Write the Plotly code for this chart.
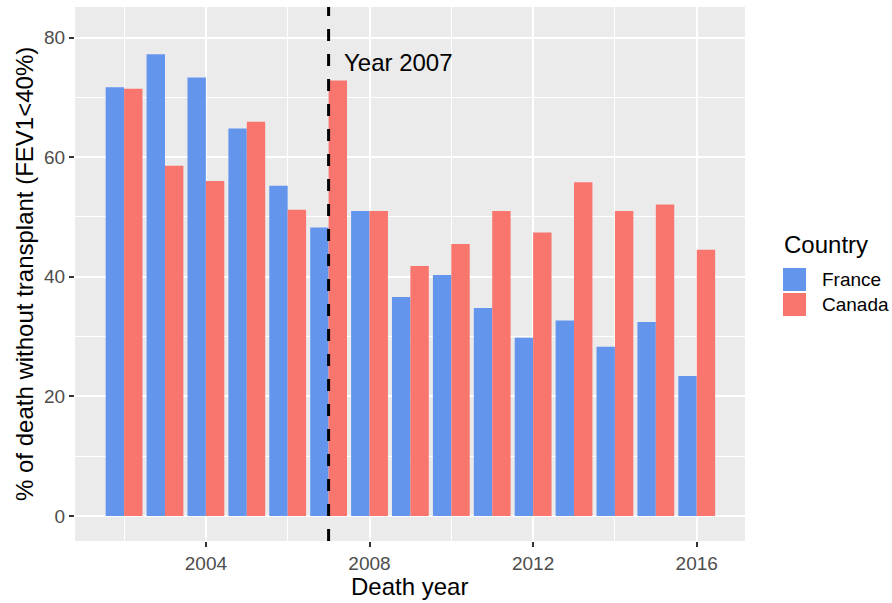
import plotly.graph_objects as go

# ---- data ----
years = [2002, 2003, 2004, 2005, 2006, 2007, 2008, 2009, 2010, 2011, 2012, 2013, 2014, 2015, 2016]
france = [71.7, 77.2, 73.3, 64.8, 55.2, 48.25, 51.0, 36.6, 40.3, 34.8, 29.8, 32.7, 28.3, 32.45, 23.4]
canada = [71.45, 58.55, 56.0, 65.9, 51.2, 72.8, 51.0, 41.8, 45.5, 51.0, 47.4, 55.8, 51.0, 52.1, 44.5]
countries = ["France", "Canada"]
colors = ["#6495ED", "#F8766D"]
vline_year = 2007
vline_label = "Year 2007"
label_x, label_y = 2007.32, 75.8
y_ticks = [0, 20, 40, 60, 80]
x_ticks = [2004, 2008, 2012, 2016]

W, H = 892, 603
ML, MR, MT, MB = 75, 147, 7, 62
PW, PH = W - ML - MR, H - MT - MB

def px(x):
    return (x - ML) / PW

def py(y):
    return (H - MB - y) / PH

FONT = "Liberation Sans, Arial, sans-serif"

fig = go.Figure()
for name, vals, col in zip(countries, [france, canada], colors):
    fig.add_trace(go.Bar(x=years, y=vals, name=name, marker=dict(color=col, line=dict(width=0)),
                         showlegend=False))

fig.update_layout(
    width=W, height=H,
    margin=dict(l=ML, r=MR, t=MT, b=MB),
    paper_bgcolor="white", plot_bgcolor="#EBEBEB",
    barmode="group", bargap=0.1, bargroupgap=0,
    font=dict(family=FONT, color="#4D4D4D"),
    showlegend=False,
)
fig.update_xaxes(
    range=[2000.8, 2017.18], tickvals=x_ticks, ticktext=[str(v) for v in x_ticks],
    showgrid=True, gridcolor="white", gridwidth=2,
    minor=dict(dtick=2, tick0=2002, showgrid=True, gridcolor="white", gridwidth=1, ticklen=0),
    ticks="outside", ticklen=5, tickwidth=1.5, tickcolor="#333333",
    tickfont=dict(size=19, color="#4D4D4D", family=FONT),
    zeroline=False, showline=False,
)
fig.update_yaxes(
    range=[-4.17, 85.1], tickvals=y_ticks,
    showgrid=True, gridcolor="white", gridwidth=2,
    minor=dict(dtick=10, tick0=0, showgrid=True, gridcolor="white", gridwidth=1, ticklen=0),
    ticks="outside", ticklen=5, tickwidth=1.5, tickcolor="#333333",
    tickfont=dict(size=19, color="#4D4D4D", family=FONT),
    zeroline=False, showline=False,
)

# vertical dashed line
fig.add_shape(type="line", x0=vline_year, x1=vline_year, xref="x", y0=0, y1=1, yref="paper",
              line=dict(color="black", width=3, dash="12px,13px"))
fig.add_annotation(x=label_x, y=label_y, xref="x", yref="y", text=vline_label, showarrow=False,
                   xanchor="left", yanchor="middle", font=dict(size=24, color="black", family=FONT))

# axis titles
fig.add_annotation(x=px(409), y=py(586), xref="paper", yref="paper", text="Death year", showarrow=False,
                   xanchor="center", yanchor="middle", font=dict(size=24, color="black", family=FONT))
fig.add_annotation(x=px(24), y=py(274), xref="paper", yref="paper",
                   text="% of death without transplant (FEV1<40%)", showarrow=False, textangle=-90,
                   xanchor="center", yanchor="middle", font=dict(size=24, color="black", family=FONT))

# legend (manual)
fig.add_annotation(x=px(782), y=py(244), xref="paper", yref="paper", text="Country", showarrow=False,
                   xanchor="left", yanchor="middle", font=dict(size=24, color="black", family=FONT))
key_tops = [268, 293]
for name, col, top in zip(countries, colors, key_tops):
    fig.add_shape(type="rect", xref="paper", yref="paper", x0=px(783), x1=px(806),
                  y0=py(top), y1=py(top + 23), fillcolor=col, line=dict(width=0))
    fig.add_annotation(x=px(820), y=py(top + 11.5), xref="paper", yref="paper", text=name,
                       showarrow=False, xanchor="left", yanchor="middle",
                       font=dict(size=19, color="black", family=FONT))

fig.write_html(
    "out.html",
    config={"displayModeBar": False},
    post_script="document.body.style.margin='0';document.body.style.overflow='hidden';",
)
